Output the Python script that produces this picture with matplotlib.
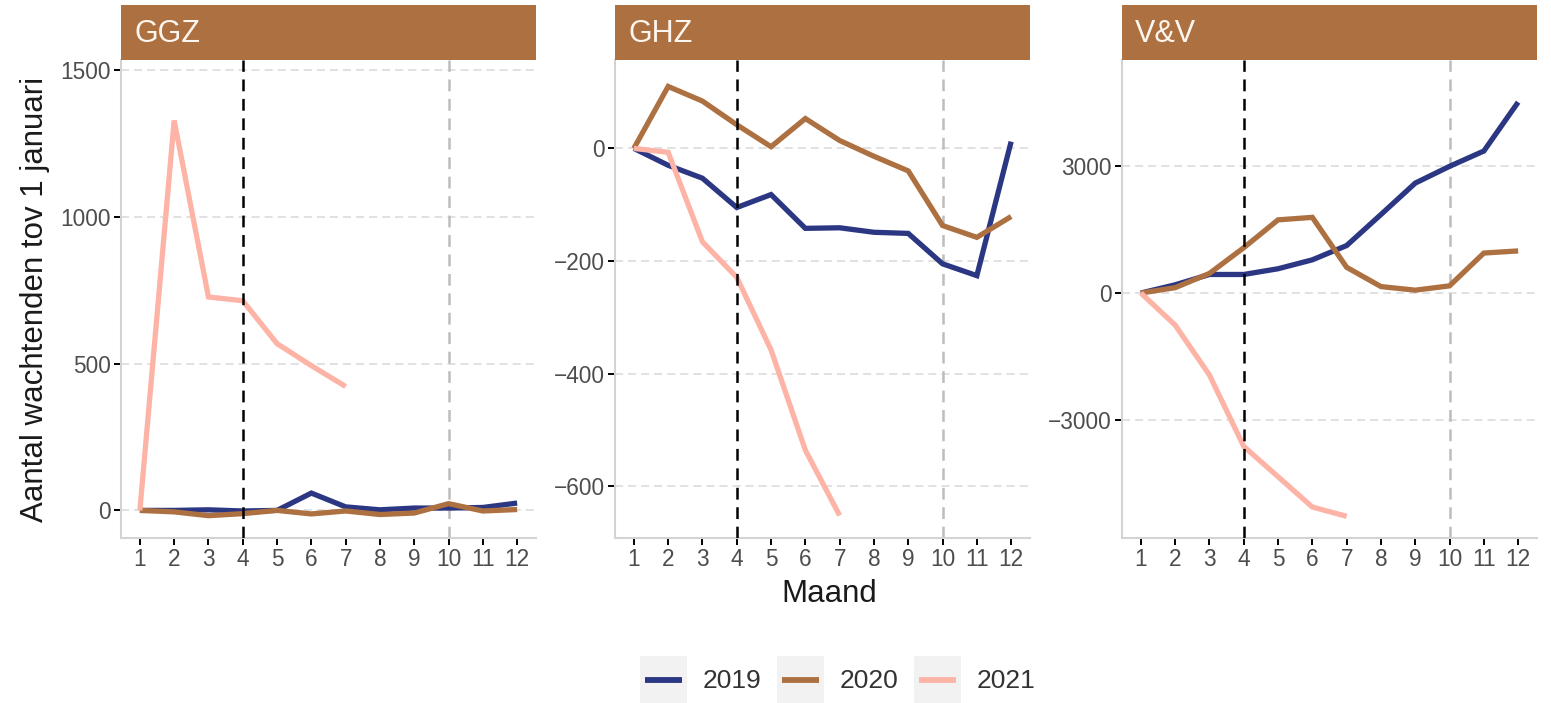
import matplotlib
matplotlib.use("Agg")
import matplotlib.pyplot as plt
from matplotlib.patches import Rectangle
from matplotlib.lines import Line2D

plt.rcParams['font.family'] = ['Liberation Sans', 'DejaVu Sans']
plt.rcParams['lines.scale_dashes'] = False

# ---- data -------------------------------------------------------------
months = list(range(1, 13))
years = ["2019", "2020", "2021"]
colors = {"2019": "#2B3782", "2020": "#AD7041", "2021": "#FDB4A6"}
panels = ["GGZ", "GHZ", "V&V"]

ggz_2019 = [0, 0, 2, -2, 0, 59, 12, 2, 8, 8, 10, 25]
ggz_2020 = [0, -5, -18, -11, 0, -12, -2, -14, -9, 23, -2, 3]
ggz_2021 = [0, 1328, 727, 714, 568, 493, 422]

ghz_2019 = [0, -30, -53, -105, -82, -142, -141, -149, -151, -205, -226, 12]
ghz_2020 = [0, 110, 84, 42, 3, 53, 14, -14, -40, -137, -158, -121]
ghz_2021 = [0, -7, -166, -229, -358, -536, -652]

vv_2019 = [0, 194, 438, 438, 573, 784, 1121, 1854, 2596, 2992, 3354, 4508]
vv_2020 = [0, 126, 463, 1070, 1728, 1787, 607, 152, 67, 169, 944, 994]
vv_2021 = [0, -758, -1938, -3624, -4340, -5056, -5275]

series = {
    "GGZ": {"2019": ggz_2019, "2020": ggz_2020, "2021": ggz_2021},
    "GHZ": {"2019": ghz_2019, "2020": ghz_2020, "2021": ghz_2021},
    "V&V": {"2019": vv_2019, "2020": vv_2020, "2021": vv_2021},
}
yticks = {"GGZ": [0, 500, 1000, 1500],
          "GHZ": [-600, -400, -200, 0],
          "V&V": [-3000, 0, 3000]}
ylims = {"GGZ": (-94, 1534), "GHZ": (-692, 157), "V&V": (-5787, 5504)}

# ---- layout (pixels) --------------------------------------------------
W, H = 1551, 703
fig = plt.figure(figsize=(W / 100, H / 100), dpi=100)
fig.patch.set_facecolor("white")

panel_left = {"GGZ": 121, "GHZ": 615, "V&V": 1122}
panel_w = 415
p_top, p_bot = 60, 538
strip_top = 5

strip_col = "#AD7041"
grid_col = "#D9D9D9"
tick_col = "#4D4D4D"

for name in panels:
    x0 = panel_left[name]
    ax = fig.add_axes([x0 / W, 1 - p_bot / H, panel_w / W, (p_bot - p_top) / H])
    ax.set_facecolor("white")
    ax.set_xlim(0.45, 12.55)
    ax.set_ylim(*ylims[name])

    for y in yticks[name]:
        ax.axhline(y, color=grid_col, lw=1.1, dashes=(5.8, 3.6), zorder=1)
    ax.axvline(10, color="#BDBDBD", lw=1.8, dashes=(8.5, 5.5), zorder=1)
    ax.axvline(4, color="black", lw=1.8, dashes=(8.5, 5.5), zorder=4)

    for yr in years:
        vals = series[name][yr]
        ax.plot(months[:len(vals)], vals, color=colors[yr], lw=3.8,
                solid_capstyle="butt", solid_joinstyle="miter", zorder=3)

    for s in ["top", "right"]:
        ax.spines[s].set_visible(False)
    for s in ["left", "bottom"]:
        ax.spines[s].set_color("#D3D3D3")
        ax.spines[s].set_linewidth(1.5)

    ax.set_xticks(months)
    ax.set_xticklabels([str(m) for m in months])
    ax.set_yticks(yticks[name])
    ax.tick_params(axis="both", colors="black", labelcolor=tick_col,
                   labelsize=16.3, length=4.8, width=1.4, pad=2.5)

    # facet strip
    sax = fig.add_axes([x0 / W, 1 - p_top / H, panel_w / W, (p_top - strip_top) / H])
    sax.set_xlim(0, 1)
    sax.set_ylim(0, 1)
    sax.add_patch(Rectangle((0, 0), 1, 1, color=strip_col))
    sax.text(13 / panel_w, 0.47, name, color="#FDF6EE", fontsize=22,
             ha="left", va="center")
    sax.axis("off")

# axis titles
fig.text(35 / W, 1 - 299 / H, "Aantal wachtenden tov 1 januari", rotation=90,
         ha="center", va="center", fontsize=22.5, color="#1A1A1A")
fig.text(829 / W, 1 - 594 / H, "Maand", ha="center", va="center",
         fontsize=22.5, color="#1A1A1A")

# legend
lax = fig.add_axes([0, 0, 1, 1], zorder=-1)
lax.set_xlim(0, W)
lax.set_ylim(H, 0)
lax.axis("off")
key_x = [640, 777, 914]
for kx, yr in zip(key_x, years):
    lax.add_patch(Rectangle((kx, 656), 47, 47, color="#F2F2F2", lw=0))
    lax.add_line(Line2D([kx + 5, kx + 42], [679.5, 679.5], color=colors[yr],
                        lw=4.2, solid_capstyle="butt"))
    lax.text(kx + 63, 681, yr, ha="left", va="center", fontsize=19,
             color="#333333")

fig.savefig("out.png", dpi=100, facecolor="white")
